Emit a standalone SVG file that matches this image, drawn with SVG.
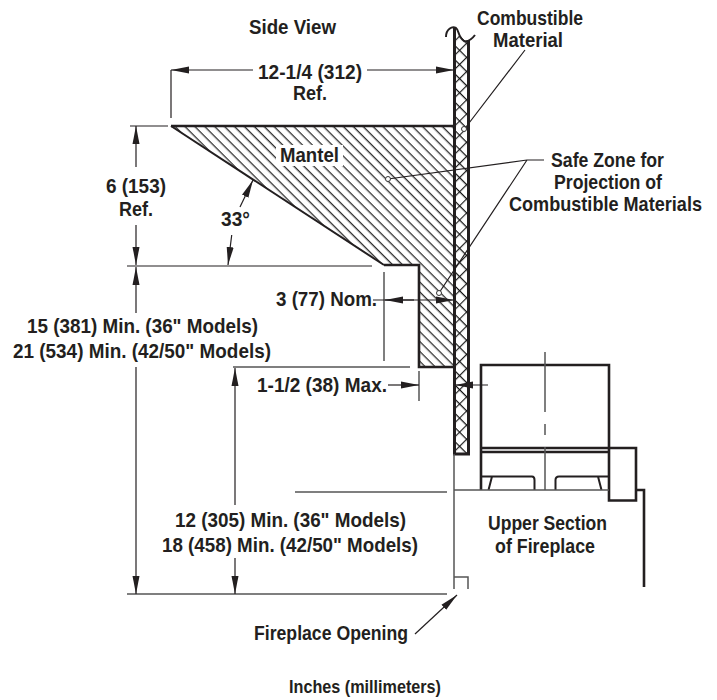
<svg xmlns="http://www.w3.org/2000/svg" width="717" height="700" viewBox="0 0 717 700">
<style>
text{font-family:"Liberation Sans",Arial,sans-serif;font-weight:bold;font-size:20.5px;fill:#231f20;text-anchor:start}
.t{fill:none;stroke:#231f20;stroke-width:1.2}
.g{fill:none;stroke:#555;stroke-width:1.5}
.k{fill:none;stroke:#231f20;stroke-width:2.6}
.m{fill:none;stroke:#231f20;stroke-width:2}
.c{fill:#fff;stroke:#333;stroke-width:1}
</style>
<defs>
<pattern id="hatch" width="7" height="7" patternUnits="userSpaceOnUse" patternTransform="rotate(45)">
<line x1="0" y1="0.700" x2="7" y2="0.700" stroke="#111" stroke-width="1.150"/>
</pattern>
<pattern id="cross" width="10" height="10" patternUnits="userSpaceOnUse" patternTransform="rotate(45)">
<path d="M0 0.600H10M0.600 0V10" stroke="#111" stroke-width="1.100" fill="none"/>
</pattern>
<marker id="a" markerWidth="18" markerHeight="8" refX="18" refY="4" orient="auto" markerUnits="userSpaceOnUse"><path d="M0 0.500L18 4L0 7.500Z" fill="#231f20"/></marker>
</defs>
<g id="wall">
<rect x="454" y="36" width="14" height="418" fill="url(#cross)"/>
<path class="k" style="stroke-width:3" d="M454.500 28V454H468.500V40"/>
<path class="m" d="M446 37C446 29 452 26 456 28C459 30 458 37 464 41C468 42 472 39 475 35"/>
</g>
<g id="mantel">
<path d="M171 126H454V367H419V265H384Z" fill="url(#hatch)"/>
<rect x="276" y="145" width="67" height="21" fill="#fff"/>
<path class="k" d="M454 126H171"/>
<path class="m" d="M171 126L384 265"/>
<path class="k" d="M384 265H419V367H454"/>
</g>
<g id="fireplace">
<path class="k" d="M481 490V365H609V500.500H636V448H481M481 452H609M609 448V490M636 490H644V587"/>
<path class="m" d="M481 476.500H532Q534.500 476.500 534.500 480V490M609 476.500H559Q555.500 476.500 555.500 480V490M492 476.500L488.500 490M598 476.500L601.500 490"/>
<path class="g" d="M545 352V412M545 424V435M545 447V490M454 490H609M454 454V589M454 577H468V589"/>
</g>
<g id="connectors">
<path class="g" d="M295 492H447M127 594H447M384 272V361M419 371V401M233 367H410"/>
<path class="t" d="M127 266H372M171 70V118M130 126H168"/>
<path class="t" d="M253 70H171" marker-end="url(#a)"/>
<path class="t" d="M367 70H454" marker-end="url(#a)"/>
<path class="t" d="M136 167V126" marker-end="url(#a)"/>
<path class="t" d="M136 225V265" marker-end="url(#a)"/>
<path class="t" d="M136 313V267" marker-end="url(#a)"/>
<path class="t" d="M136 367V594" marker-end="url(#a)"/>
<path class="t" d="M235 505V368" marker-end="url(#a)"/>
<path class="t" d="M235 558V594" marker-end="url(#a)"/>
<path class="t" d="M231.700 235L228 265" marker-end="url(#a)"/>
<path class="t" d="M240 207L253 180" marker-end="url(#a)"/>
<path class="t" d="M414 300H385" marker-end="url(#a)"/>
<path class="t" d="M373 300H454" marker-end="url(#a)"/>
<path class="t" d="M388 385H419" marker-end="url(#a)"/>
<path class="t" d="M488 385H455" marker-end="url(#a)"/>
<path class="t" d="M415 634L457 595" marker-end="url(#a)"/>
<path class="t" d="M525 50L466 127M388 179L527 160H544M527 160L439 293"/>
<circle class="c" cx="464" cy="129" r="2.500"/><circle class="c" cx="388" cy="179" r="2.500"/><circle class="c" cx="439" cy="293" r="2.500"/>
</g>
<g id="labels">
<text x="249" y="34" textLength="87" lengthAdjust="spacingAndGlyphs">Side View</text>
<text x="477" y="25" textLength="106" lengthAdjust="spacingAndGlyphs">Combustible</text>
<text x="493" y="47" textLength="70" lengthAdjust="spacingAndGlyphs">Material</text>
<text x="258" y="79" textLength="104" lengthAdjust="spacingAndGlyphs">12-1/4 (312)</text>
<text x="293" y="100" textLength="34" lengthAdjust="spacingAndGlyphs">Ref.</text>
<text x="280" y="162" textLength="59" lengthAdjust="spacingAndGlyphs">Mantel</text>
<text x="551" y="167" textLength="113" lengthAdjust="spacingAndGlyphs">Safe Zone for</text>
<text x="554" y="189" textLength="108" lengthAdjust="spacingAndGlyphs">Projection of</text>
<text transform="translate(509 211) scale(.8825 1)">Combustible Materials</text>
<text x="106" y="193" textLength="60" lengthAdjust="spacingAndGlyphs">6 (153)</text>
<text x="119" y="216" textLength="34" lengthAdjust="spacingAndGlyphs">Ref.</text>
<text x="221" y="226" textLength="29" lengthAdjust="spacingAndGlyphs">33°</text>
<text x="276" y="306" textLength="101" lengthAdjust="spacingAndGlyphs">3 (77) Nom.</text>
<text x="27" y="333" textLength="231" lengthAdjust="spacingAndGlyphs">15 (381) Min. (36" Models)</text>
<text x="13" y="358" textLength="258" lengthAdjust="spacingAndGlyphs">21 (534) Min. (42/50" Models)</text>
<text x="257" y="392" textLength="130" lengthAdjust="spacingAndGlyphs">1-1/2 (38) Max.</text>
<text x="175" y="527" textLength="231" lengthAdjust="spacingAndGlyphs">12 (305) Min. (36" Models)</text>
<text x="162" y="552" textLength="256" lengthAdjust="spacingAndGlyphs">18 (458) Min. (42/50" Models)</text>
<text x="488" y="530" textLength="119" lengthAdjust="spacingAndGlyphs">Upper Section</text>
<text x="495" y="553" textLength="100" lengthAdjust="spacingAndGlyphs">of Fireplace</text>
<text x="254" y="640" textLength="154" lengthAdjust="spacingAndGlyphs">Fireplace Opening</text>
<text x="289" y="693" textLength="152" lengthAdjust="spacingAndGlyphs" style="font-size:18px">Inches (millimeters)</text>
</g>
</svg>
